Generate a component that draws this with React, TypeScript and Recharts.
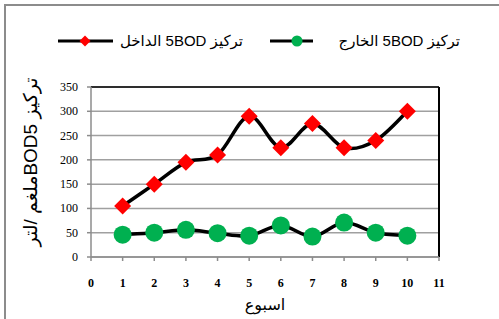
import React from 'react';
import { LineChart, Line, XAxis, YAxis, CartesianGrid, ReferenceLine, Legend } from 'recharts';

const weeks = [1, 2, 3, 4, 5, 6, 7, 8, 9, 10];
const inletValues = [105, 150, 195, 210, 290, 225, 275, 225, 240, 300];
const outletValues = [46, 50, 56, 49, 44, 65, 42, 71, 50, 44];
const xTicks = [0, 1, 2, 3, 4, 5, 6, 7, 8, 9, 10, 11];
const yTicks = [0, 50, 100, 150, 200, 250, 300, 350];
const inletName = 'تركيز 5BOD الداخل';
const outletName = 'تركيز 5BOD الخارج';
const yLabel = 'تركيز  BOD5ملغم /لتر';
const xLabel = 'اسبوع';

const data = weeks.map((w, i) => ({ week: w, inlet: inletValues[i], outlet: outletValues[i] }));

// Excel-like smoothing (Catmull-Rom as cubic Bezier)
function excelSmooth(context: any) {
  let pts: [number, number][] = [];
  return {
    areaStart() {},
    areaEnd() {},
    lineStart() { pts = []; },
    point(x: number, y: number) { pts.push([+x, +y]); },
    lineEnd() {
      const n = pts.length;
      if (!n) return;
      context.moveTo(pts[0][0], pts[0][1]);
      for (let i = 0; i < n - 1; i++) {
        const p0 = pts[Math.max(i - 1, 0)];
        const p1 = pts[i];
        const p2 = pts[i + 1];
        const p3 = pts[Math.min(i + 2, n - 1)];
        const c1x = p1[0] + (p2[0] - p0[0]) / 6;
        const c1y = p1[1] + (p2[1] - p0[1]) / 6;
        const c2x = p2[0] - (p3[0] - p1[0]) / 6;
        const c2y = p2[1] - (p3[1] - p1[1]) / 6;
        context.bezierCurveTo(c1x, c1y, c2x, c2y, p2[0], p2[1]);
      }
    },
  };
}

const Diamond = (props: any) => {
  const { cx, cy } = props;
  if (cx == null || cy == null) return null;
  const r = 8.5;
  return <polygon points={`${cx},${cy - r} ${cx + r},${cy} ${cx},${cy + r} ${cx - r},${cy}`} fill="#FF0000" />;
};

const Circle = (props: any) => {
  const { cx, cy } = props;
  if (cx == null || cy == null) return null;
  return <circle cx={cx} cy={cy} r={9} fill="#00B050" />;
};

const XTick = (props: any) => {
  const { x, y, payload } = props;
  return (
    <text x={x} y={y + 26} textAnchor="middle" fontFamily="'Liberation Serif', serif" fontWeight="bold" fontSize={12} fill="#000">
      {payload.value}
    </text>
  );
};

const YTick = (props: any) => {
  const { y, payload } = props;
  return (
    <text x={78} y={y + 4} textAnchor="end" fontFamily="'Liberation Serif', serif" fontSize={12} fill="#000">
      {payload.value}
    </text>
  );
};

const legendText: React.CSSProperties = {
  fontFamily: "'Liberation Sans', 'DejaVu Sans', sans-serif",
  fontSize: 15,
  direction: 'rtl',
  unicodeBidi: 'isolate',
  whiteSpace: 'nowrap',
  position: 'absolute',
  top: 0,
  lineHeight: '20px',
};

const LegendContent = () => (
  <div style={{ position: 'relative', width: 499, height: 20 }}>
    <svg width={499} height={20} style={{ position: 'absolute', left: 0, top: 0 }}>
      <line x1={58} y1={10} x2={113} y2={10} stroke="#000" strokeWidth={3} />
      <polygon points="85,4.5 90.5,10 85,15.5 79.5,10" fill="#FF0000" />
      <line x1={270} y1={10} x2={313} y2={10} stroke="#000" strokeWidth={3} />
      <circle cx={297} cy={10} r={5.5} fill="#00B050" />
    </svg>
    <span style={{ ...legendText, right: 499 - 243 }}>{inletName}</span>
    <span style={{ ...legendText, right: 499 - 460 }}>{outletName}</span>
  </div>
);

export default function App() {
  return (
    <div style={{ position: 'absolute', left: 0, top: 0, width: 499, height: 319, overflow: 'hidden', background: '#fff' }}>
      <div style={{ position: 'absolute', left: 4, top: 4, width: 560, height: 380, border: '2px solid #8c8c8c' }} />
      <div style={{ position: 'absolute', left: 0, top: 0 }}>
        <LineChart width={499} height={319} data={data} margin={{ top: 67, right: 60, left: 0, bottom: 0 }}>
          <CartesianGrid horizontal vertical={false} stroke="#a0a0a0" strokeWidth={1.5} />
          <XAxis
            dataKey="week"
            type="number"
            domain={[0, 11]}
            ticks={xTicks}
            interval={0}
            height={62}
            tickSize={4}
            tickMargin={0}
            stroke="#8c8c8c"
            strokeWidth={1.5}
            tick={<XTick />}
            label={() => (
              <text x={265} y={310} textAnchor="middle" fontFamily="'Liberation Sans', 'DejaVu Sans', sans-serif" fontSize={16} fill="#000">
                {xLabel}
              </text>
            )}
          />
          <YAxis
            type="number"
            domain={[0, 350]}
            ticks={yTicks}
            interval={0}
            width={91}
            tickSize={4}
            stroke="#8c8c8c"
            strokeWidth={1.5}
            tick={<YTick />}
            label={() => {
              const cx = 30;
              const cy = 162;
              return (
                <text x={cx} y={cy} transform={`rotate(-90, ${cx}, ${cy})`} textAnchor="middle" dominantBaseline="central" direction="rtl" fontFamily="'Liberation Sans', 'DejaVu Sans', sans-serif" fontSize={19} fill="#000">
                  {yLabel}
                </text>
              );
            }}
          />
          <ReferenceLine y={350} stroke="#000" strokeWidth={1.5} />
          <ReferenceLine x={11} stroke="#000" strokeWidth={2} />
          <Legend verticalAlign="top" content={<LegendContent />} wrapperStyle={{ top: 31, left: 0, width: 499 }} />
          <Line name={inletName} dataKey="inlet" type={excelSmooth as any} stroke="#000" strokeWidth={3.5} dot={<Diamond />} activeDot={false} isAnimationActive={false} />
          <Line name={outletName} dataKey="outlet" type={excelSmooth as any} stroke="#000" strokeWidth={3.5} dot={<Circle />} activeDot={false} isAnimationActive={false} />
        </LineChart>
      </div>
    </div>
  );
}
